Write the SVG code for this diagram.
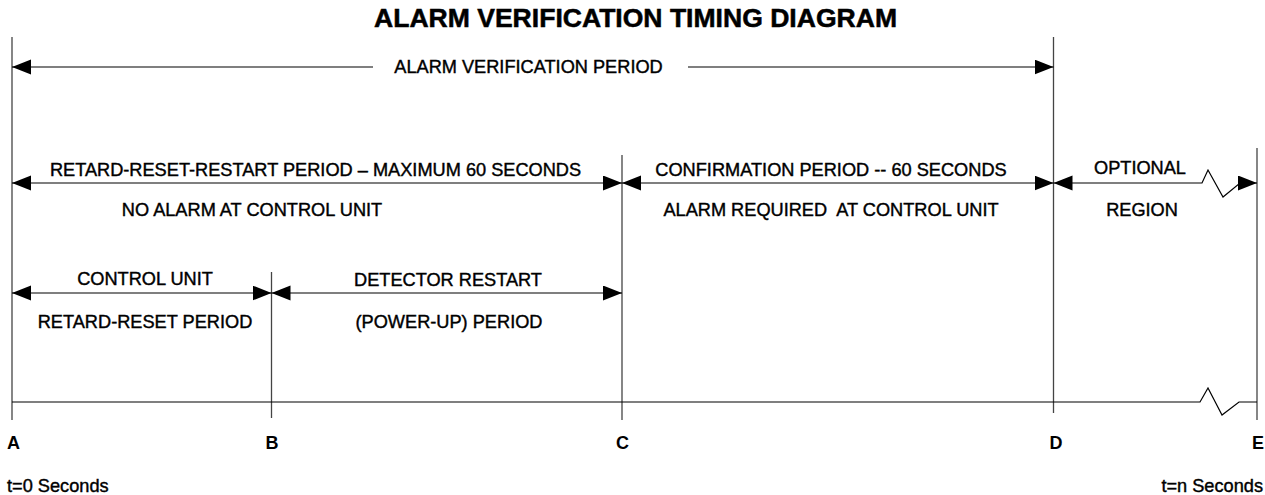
<svg xmlns="http://www.w3.org/2000/svg" width="1265" height="495" viewBox="0 0 1265 495">
<style>
  .bg { fill: #ffffff; }
  .title { font-family: "Liberation Sans", Arial, sans-serif; font-weight: bold; font-size: 25px; fill: #000; stroke: #000; stroke-width: 0.5; }
  .lbl { font-family: "Liberation Sans", Arial, sans-serif; font-size: 18.2px; fill: #000; stroke: #000; stroke-width: 0.4; white-space: pre; }
  .pt { font-family: "Liberation Sans", Arial, sans-serif; font-size: 18px; font-weight: bold; fill: #000; }
  .tm { font-family: "Liberation Sans", Arial, sans-serif; font-size: 18.2px; fill: #000; stroke: #000; stroke-width: 0.4; }
  .v { stroke: #444; stroke-width: 1.3; fill: none; }
  .h { stroke: #000; stroke-width: 1.2; fill: none; }
  .arr { stroke: #000; stroke-width: 1.2; fill: none; marker-start: url(#ah); marker-end: url(#ah); }
</style>
<defs>
  <marker id="ah" markerUnits="userSpaceOnUse" markerWidth="20" markerHeight="16" refX="19" refY="7.5" orient="auto-start-reverse">
    <path d="M0,0 L19,7.5 L0,15 z" fill="#000"/>
  </marker>
  <marker id="ahe" markerUnits="userSpaceOnUse" markerWidth="20" markerHeight="16" refX="19" refY="7.5" orient="auto">
    <path d="M0,0 L19,7.5 L0,15 z" fill="#000"/>
  </marker>
</defs>
<rect class="bg" x="0" y="0" width="1265" height="495"/>

<text class="title" x="635.5" y="27" text-anchor="middle" textLength="523" lengthAdjust="spacingAndGlyphs">ALARM VERIFICATION TIMING DIAGRAM</text>

<g id="timeline">
  <line class="v" x1="12" y1="37" x2="12" y2="420"/>
  <line class="v" x1="271.5" y1="272" x2="271.5" y2="418"/>
  <line class="v" x1="622" y1="155" x2="622" y2="420"/>
  <line class="v" x1="1053.5" y1="37" x2="1053.5" y2="413"/>
  <line class="v" x1="1257" y1="148" x2="1257" y2="420"/>
  <polyline class="h" points="12,402 1200,402 1208,388 1222,415 1239,402 1257,402"/>
</g>

<g id="connectors">
  <line x1="373" y1="67" x2="12" y2="67" class="h" marker-end="url(#ahe)"/>
  <line x1="688" y1="67" x2="1053.5" y2="67" class="h" marker-end="url(#ahe)"/>
  <line class="arr" x1="12" y1="183" x2="622" y2="183"/>
  <line class="arr" x1="622" y1="183" x2="1053.5" y2="183"/>
  <polyline class="arr" points="1053.5,183 1202,183 1208,170 1223,197 1240,183 1257,183"/>
  <line class="arr" x1="12" y1="293" x2="271.5" y2="293"/>
  <line class="arr" x1="271.5" y1="293" x2="622" y2="293"/>
</g>

<g id="verification-period">
  <text class="lbl" x="528.5" y="73" text-anchor="middle">ALARM VERIFICATION PERIOD</text>
</g>
<g id="retard-reset-restart">
  <text class="lbl" x="315.5" y="176" text-anchor="middle">RETARD-RESET-RESTART PERIOD – MAXIMUM 60 SECONDS</text>
  <text class="lbl" x="252" y="216" text-anchor="middle">NO ALARM AT CONTROL UNIT</text>
</g>
<g id="confirmation">
  <text class="lbl" x="831" y="176" text-anchor="middle">CONFIRMATION PERIOD -- 60 SECONDS</text>
  <text class="lbl" x="831" y="216" text-anchor="middle">ALARM REQUIRED  AT CONTROL UNIT</text>
</g>
<g id="optional">
  <text class="lbl" x="1140" y="174" text-anchor="middle">OPTIONAL</text>
  <text class="lbl" x="1142" y="216" text-anchor="middle">REGION</text>
</g>
<g id="control-unit">
  <text class="lbl" x="145" y="285" text-anchor="middle">CONTROL UNIT</text>
  <text class="lbl" x="145" y="328" text-anchor="middle">RETARD-RESET PERIOD</text>
</g>
<g id="detector-restart">
  <text class="lbl" x="448" y="286" text-anchor="middle">DETECTOR RESTART</text>
  <text class="lbl" x="449" y="328" text-anchor="middle">(POWER-UP) PERIOD</text>
</g>

<g id="points">
  <text class="pt" x="7" y="449">A</text>
  <text class="pt" x="272" y="449" text-anchor="middle">B</text>
  <text class="pt" x="622.5" y="449" text-anchor="middle">C</text>
  <text class="pt" x="1056" y="449" text-anchor="middle">D</text>
  <text class="pt" x="1252" y="449">E</text>
  <text class="tm" x="7" y="492">t=0 Seconds</text>
  <text class="tm" x="1263" y="492" text-anchor="end">t=n Seconds</text>
</g>
</svg>
